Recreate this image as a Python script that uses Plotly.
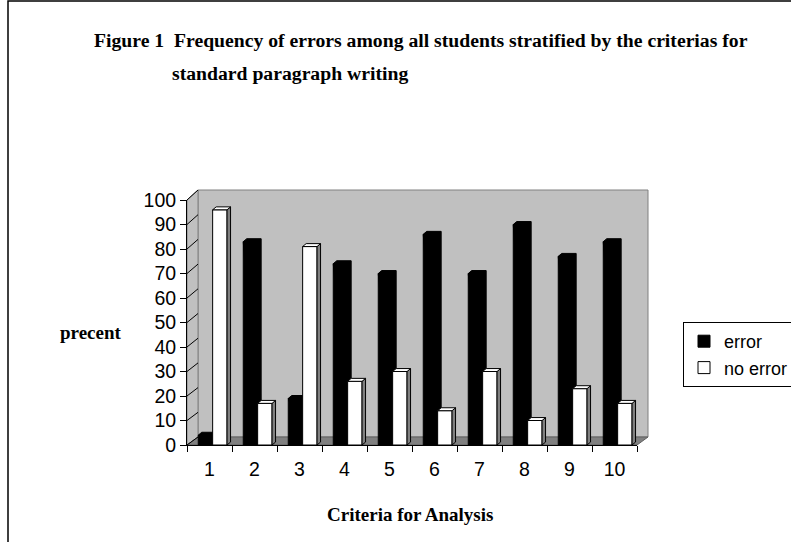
import plotly.graph_objects as go

# ---- data ----
categories = [1, 2, 3, 4, 5, 6, 7, 8, 9, 10]
category_labels = ["1", "2", "3", "4", "5", "6", "7", "8", "9", "10"]
error = [4, 83, 19, 74, 70, 86, 70, 90, 77, 83]
no_error = [96, 17, 81, 26, 30, 14, 30, 10, 23, 17]
y_ticks = [0, 10, 20, 30, 40, 50, 60, 70, 80, 90, 100]

title_line1 = "Figure 1  Frequency of errors among all students stratified by the criterias for"
title_line2 = "standard paragraph writing"
x_title = "Criteria for Analysis"
y_title = "precent"

W, H = 791, 542


def px(x):
    return x / W


def py(y):
    return 1 - y / H


# geometry of the pseudo-3D box (pixels)
FX0, FX1, FY0, FY1 = 187, 637, 445, 200   # front plane
BX0, BX1, BY0, BY1 = 198, 648, 437, 190   # back wall

BAR_W = 0.32
OFF_ERR = -0.25
OFF_NO = 0.07
DX = 0.078   # depth offset in x data units
DY = 1.2     # depth offset in y data units

fig = go.Figure()
fig.add_trace(go.Bar(
    x=categories, y=error, name="error", width=BAR_W, offset=OFF_ERR,
    marker=dict(color="black", line=dict(color="black", width=1)),
    xaxis="x2", yaxis="y2", legendgroup="a",
))
fig.add_trace(go.Bar(
    x=categories, y=no_error, name="no error", width=BAR_W, offset=OFF_NO,
    marker=dict(color="white", line=dict(color="black", width=1)),
    xaxis="x2", yaxis="y2", legendgroup="b",
))

shapes = []
# back wall
shapes.append(dict(type="rect", xref="paper", yref="paper",
                   x0=px(BX0), x1=px(BX1), y0=py(BY0), y1=py(BY1),
                   fillcolor="#C0C0C0", line=dict(color="#808080", width=1), layer="below"))
# side wall
shapes.append(dict(type="path", xref="paper", yref="paper",
                   path=f"M {px(FX0)} {py(FY0)} L {px(BX0)} {py(BY0)} L {px(BX0)} {py(BY1)} L {px(FX0)} {py(FY1)} Z",
                   fillcolor="#C0C0C0", line=dict(color="#808080", width=1), layer="below"))
# floor
shapes.append(dict(type="path", xref="paper", yref="paper",
                   path=f"M {px(FX0)} {py(FY0)} L {px(FX1)} {py(FY0)} L {px(BX1)} {py(BY0)} L {px(BX0)} {py(BY0)} Z",
                   fillcolor="#808080", line=dict(color="#606060", width=1), layer="below"))
# gridline connectors on side wall
for v in y_ticks:
    yf = FY0 + (FY1 - FY0) * v / 100
    yb = BY0 + (BY1 - BY0) * v / 100
    shapes.append(dict(type="line", xref="paper", yref="paper",
                       x0=px(FX0), x1=px(BX0), y0=py(yf), y1=py(yb),
                       line=dict(color="black", width=1), layer="below"))

# 3D faces of bars
for c, v in zip(categories, error):
    x0 = c + OFF_ERR
    x1 = x0 + BAR_W
    shapes.append(dict(type="path", xref="x2", yref="y2", layer="below",
                       path=f"M {x0} {v} L {x0+DX} {v+DY} L {x1+DX} {v+DY} L {x1+DX} {DY} L {x1} 0 Z",
                       fillcolor="black", line=dict(color="black", width=1)))
for c, v in zip(categories, no_error):
    x0 = c + OFF_NO
    x1 = x0 + BAR_W
    shapes.append(dict(type="path", xref="x2", yref="y2", layer="above",
                       path=f"M {x1} 0 L {x1+DX} {DY} L {x1+DX} {v+DY} L {x1} {v} Z",
                       fillcolor="#808080", line=dict(color="black", width=1)))
    shapes.append(dict(type="path", xref="x2", yref="y2", layer="above",
                       path=f"M {x0} {v} L {x0+DX} {v+DY} L {x1+DX} {v+DY} L {x1} {v} Z",
                       fillcolor="white", line=dict(color="black", width=1)))

# outer frame
shapes.append(dict(type="rect", xref="paper", yref="paper",
                   x0=px(8), x1=1.05, y0=-0.05, y1=py(1),
                   line=dict(color="black", width=1.5), fillcolor="rgba(0,0,0,0)", layer="above"))

sans = "Liberation Sans, Arial, sans-serif"
serif = "Liberation Serif, Times New Roman, serif"

annotations = [
    dict(text=f"<b>{title_line1}</b>", xref="paper", yref="paper", x=px(92), y=py(40),
         xanchor="left", yanchor="middle", showarrow=False,
         font=dict(family=serif, size=19.7, color="black")),
    dict(text=f"<b>{title_line2}</b>", xref="paper", yref="paper", x=px(170), y=py(73),
         xanchor="left", yanchor="middle", showarrow=False,
         font=dict(family=serif, size=19.7, color="black")),
    dict(text=f"<b>{y_title}</b>", xref="paper", yref="paper", x=px(91), y=py(332),
         xanchor="center", yanchor="middle", showarrow=False,
         font=dict(family=serif, size=19, color="black")),
    dict(text=f"<b>{x_title}</b>", xref="paper", yref="paper", x=px(410), y=py(514),
         xanchor="center", yanchor="middle", showarrow=False,
         font=dict(family=serif, size=19, color="black")),
]

fig.update_layout(
    width=W, height=H, autosize=False,
    margin=dict(l=0, r=0, t=0, b=0, pad=0, autoexpand=False),
    paper_bgcolor="white", plot_bgcolor="rgba(0,0,0,0)",
    barmode="overlay",
    shapes=shapes,
    annotations=annotations,
    showlegend=True,
    legend=dict(x=px(683), y=py(322), xanchor="left", yanchor="top",
                bgcolor="white", bordercolor="black", borderwidth=1,
                font=dict(family=sans, size=18, color="black"),
                traceorder="normal", tracegroupgap=7),
    xaxis=dict(domain=[px(BX0), px(BX1)], range=[0.5, 10.5], anchor="y", automargin=False,
               showgrid=False, showticklabels=False, showline=False, zeroline=False, ticks=""),
    yaxis=dict(domain=[py(BY0), py(BY1)], range=[0, 100], anchor="x", automargin=False,
               tickvals=y_ticks, showgrid=True, gridcolor="black", gridwidth=1,
               showticklabels=False, showline=False, zeroline=False, ticks=""),
    xaxis2=dict(domain=[px(FX0), px(FX1)], range=[0.5, 10.5], anchor="y2", automargin=False,
                tickvals=categories, ticktext=category_labels, ticks="",
                showline=True, linecolor="black", linewidth=1, showgrid=False, zeroline=False,
                tickfont=dict(family=sans, size=19.5, color="black"), ticklabelstandoff=7,
                minor=dict(tickvals=[c - 0.5 for c in categories] + [categories[-1] + 0.5],
                           ticks="outside", ticklen=6, tickcolor="black", showgrid=False)),
    yaxis2=dict(domain=[py(FY0), py(FY1)], range=[0, 100], anchor="x2", automargin=False,
                tickvals=y_ticks, ticks="outside", ticklen=6, tickcolor="black",
                showline=True, linecolor="black", linewidth=1, showgrid=False, zeroline=False,
                tickfont=dict(family=sans, size=19.5, color="black")),
)

fig.write_html(
    "out.html",
    config={"displayModeBar": False},
    post_script="var d=document.getElementById('{plot_id}');d.style.position='fixed';"
                "d.style.top='0px';d.style.left='0px';document.body.style.margin='0';",
)
